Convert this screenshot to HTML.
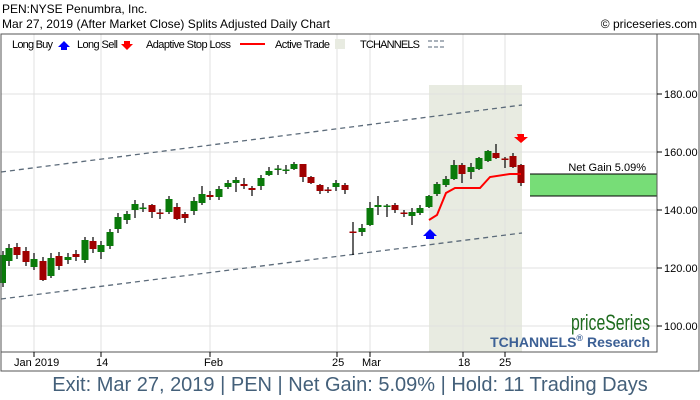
<!DOCTYPE html>
<html><head><meta charset="utf-8"><style>
html,body{margin:0;padding:0;background:#fff;width:700px;height:400px;overflow:hidden}
svg{display:block;font-family:"Liberation Sans",sans-serif}
</style></head><body>
<svg width="700" height="400" viewBox="0 0 700 400" xmlns="http://www.w3.org/2000/svg">
<rect x="0" y="0" width="700" height="400" fill="#fff"/>
<text x="2" y="13" font-size="12" fill="#000">PEN:NYSE Penumbra, Inc.</text>
<text x="2" y="28" font-size="12" fill="#000" textLength="328">Mar 27, 2019 (After Market Close)  Splits Adjusted Daily Chart</text>
<text x="697" y="28" font-size="12" fill="#000" text-anchor="end">© priceseries.com</text>
<rect x="429" y="85" width="93" height="267" fill="#e8ebe1"/>
<g stroke="#e0e0e0" stroke-width="1">
<line x1="1" y1="94" x2="657" y2="94"/><line x1="1" y1="152" x2="657" y2="152"/><line x1="1" y1="210" x2="657" y2="210"/><line x1="1" y1="268" x2="657" y2="268"/><line x1="1" y1="326" x2="657" y2="326"/>
<line x1="34" y1="34" x2="34" y2="352"/><line x1="101" y1="34" x2="101" y2="352"/><line x1="210" y1="34" x2="210" y2="352"/><line x1="337" y1="34" x2="337" y2="352"/><line x1="370" y1="34" x2="370" y2="352"/><line x1="463" y1="34" x2="463" y2="352"/><line x1="505" y1="34" x2="505" y2="352"/>
</g>
<g font-size="11" fill="#000">
<text x="12" y="48" textLength="41">Long Buy</text><path d="M58 47 l6 -6 l6 6 h-3 v3 h-6 v-3z" fill="#00f"/>
<text x="77" y="48" textLength="41">Long Sell</text><path d="M124 41 h6 v3 h3 l-6 6 l-6 -6 h3z" fill="#f00"/>
<text x="146" y="48" textLength="85">Adaptive Stop Loss</text><line x1="240" y1="44" x2="265" y2="44" stroke="#f00" stroke-width="2"/>
<text x="275" y="48" textLength="55">Active Trade</text><rect x="335" y="39" width="10" height="10" fill="#e8ebe1"/>
<text x="360" y="48" textLength="60">TCHANNELS</text><path d="M428 41h18M428 47h18" stroke="#567" stroke-dasharray="4,2"/>
</g>
<g stroke="#5c6b7a" stroke-width="1.3" stroke-dasharray="5,4" fill="none">
<line x1="1" y1="172" x2="522" y2="105"/><line x1="1" y1="299" x2="522" y2="233"/>
</g>
<g stroke="#000" stroke-width="1.2">
<line x1="3" y1="251" x2="3" y2="287"/><line x1="9" y1="244" x2="9" y2="266"/><line x1="17" y1="243" x2="17" y2="259"/><line x1="26" y1="247" x2="26" y2="266"/><line x1="34" y1="253" x2="34" y2="270"/><line x1="43" y1="257" x2="43" y2="281"/><line x1="51" y1="253" x2="51" y2="278"/><line x1="59" y1="252" x2="59" y2="270"/><line x1="68" y1="253" x2="68" y2="264"/><line x1="76" y1="250" x2="76" y2="261"/><line x1="85" y1="237" x2="85" y2="263"/><line x1="93" y1="237" x2="93" y2="253"/><line x1="101" y1="241" x2="101" y2="259"/><line x1="110" y1="229" x2="110" y2="249"/><line x1="118" y1="213" x2="118" y2="233"/><line x1="127" y1="211" x2="127" y2="224"/><line x1="135" y1="200" x2="135" y2="218"/><line x1="143" y1="203" x2="143" y2="212"/><line x1="152" y1="204" x2="152" y2="218"/><line x1="160" y1="209" x2="160" y2="219"/><line x1="169" y1="196" x2="169" y2="214"/><line x1="177" y1="203" x2="177" y2="220"/><line x1="185" y1="212" x2="185" y2="223"/><line x1="194" y1="197" x2="194" y2="215"/><line x1="202" y1="186" x2="202" y2="205"/><line x1="210" y1="191" x2="210" y2="200"/><line x1="219" y1="186" x2="219" y2="200"/><line x1="228" y1="180" x2="228" y2="189"/><line x1="236" y1="177" x2="236" y2="192"/><line x1="244" y1="178" x2="244" y2="189"/><line x1="252" y1="186" x2="252" y2="196"/><line x1="261" y1="175" x2="261" y2="190"/><line x1="269" y1="167" x2="269" y2="176"/><line x1="278" y1="165" x2="278" y2="175"/><line x1="286" y1="165" x2="286" y2="174"/><line x1="294" y1="162" x2="294" y2="170"/><line x1="303" y1="164" x2="303" y2="182"/><line x1="311" y1="176" x2="311" y2="184"/><line x1="320" y1="184" x2="320" y2="194"/><line x1="328" y1="187" x2="328" y2="193"/><line x1="336" y1="180" x2="336" y2="191"/><line x1="345" y1="183" x2="345" y2="194"/>
<line x1="353" y1="222" x2="353" y2="255"/><line x1="362" y1="224" x2="362" y2="236"/><line x1="370" y1="202" x2="370" y2="226"/><line x1="378" y1="196" x2="378" y2="215"/><line x1="387" y1="204" x2="387" y2="217"/><line x1="395" y1="203" x2="395" y2="213"/><line x1="404" y1="210" x2="404" y2="217"/><line x1="412" y1="208" x2="412" y2="225"/><line x1="420" y1="205" x2="420" y2="215"/><line x1="429" y1="195" x2="429" y2="208"/><line x1="437" y1="182" x2="437" y2="196"/><line x1="446" y1="176" x2="446" y2="187"/><line x1="454" y1="160" x2="454" y2="180"/><line x1="462" y1="163" x2="462" y2="183"/><line x1="471" y1="163" x2="471" y2="179"/><line x1="479" y1="157" x2="479" y2="170"/><line x1="488" y1="150" x2="488" y2="162"/><line x1="496" y1="144" x2="496" y2="159"/><line x1="505" y1="157" x2="505" y2="168"/><line x1="513" y1="153" x2="513" y2="168"/><line x1="521" y1="164" x2="521" y2="186"/>
</g>
<g fill="#0a7a0a">
<rect x="0" y="255" width="6" height="28"/><rect x="5.5" y="248" width="7" height="13"/><rect x="30.5" y="259" width="7" height="8"/><rect x="47.5" y="258" width="7" height="18"/><rect x="64.5" y="257" width="7" height="3"/><rect x="81.5" y="240" width="7" height="20"/><rect x="97.5" y="245" width="7" height="7"/><rect x="106.5" y="232" width="7" height="14"/><rect x="114.5" y="217" width="7" height="12"/><rect x="123.5" y="214" width="7" height="6"/><rect x="131.5" y="204" width="7" height="6"/><rect x="139.5" y="207.5" width="7" height="1.5"/><rect x="165.5" y="199" width="7" height="13"/><rect x="190.5" y="201" width="7" height="10"/><rect x="198.5" y="194" width="7" height="9"/><rect x="215.5" y="189" width="7" height="8"/><rect x="224.5" y="183" width="7" height="4"/><rect x="232.5" y="180" width="7" height="3"/><rect x="257.5" y="178" width="7" height="8"/><rect x="265.5" y="171" width="7" height="4"/><rect x="274.5" y="168.5" width="7" height="1.5"/><rect x="282.5" y="169.5" width="7" height="1.5"/><rect x="290.5" y="164" width="7" height="5"/><rect x="332.5" y="183" width="7" height="4"/>
<rect x="358.5" y="228" width="7" height="4"/><rect x="366.5" y="208" width="7" height="17"/><rect x="374.5" y="205" width="7" height="2"/><rect x="383.5" y="205.5" width="7" height="1.5"/><rect x="408.5" y="212" width="7" height="4"/><rect x="416.5" y="208" width="7" height="5"/><rect x="425.5" y="196" width="7" height="11"/><rect x="433.5" y="184" width="7" height="10"/><rect x="442.5" y="179" width="7" height="6"/><rect x="450.5" y="165" width="7" height="14"/><rect x="467.5" y="167" width="7" height="5"/><rect x="475.5" y="158" width="7" height="11"/><rect x="484.5" y="151" width="7" height="10"/>
</g>
<g fill="#a00000">
<rect x="13.5" y="247" width="7" height="8"/><rect x="22.5" y="251" width="7" height="11"/><rect x="39.5" y="261" width="7" height="19"/><rect x="55.5" y="256" width="7" height="10"/><rect x="72.5" y="254" width="7" height="3"/><rect x="89.5" y="241" width="7" height="8"/><rect x="148.5" y="205" width="7" height="7"/><rect x="156.5" y="212.5" width="7" height="1.5"/><rect x="173.5" y="207" width="7" height="12"/><rect x="181.5" y="214" width="7" height="4"/><rect x="206.5" y="195" width="7" height="2"/><rect x="240.5" y="184" width="7" height="2"/><rect x="248.5" y="188" width="7" height="2"/><rect x="299.5" y="164" width="7" height="13"/><rect x="307.5" y="177" width="7" height="6"/><rect x="316.5" y="185" width="7" height="6"/><rect x="324.5" y="189.5" width="7" height="1.5"/><rect x="341.5" y="185" width="7" height="5"/>
<rect x="349.5" y="231.5" width="7" height="1.5"/><rect x="391.5" y="205" width="7" height="5"/><rect x="400.5" y="212.5" width="7" height="1.5"/><rect x="458.5" y="165" width="7" height="9"/><rect x="492.5" y="153" width="7" height="5"/><rect x="501.5" y="158.5" width="7" height="1.5"/><rect x="509.5" y="156" width="7" height="11"/><rect x="517.5" y="165" width="7" height="18"/>
</g>
<path d="M429 220 L437 215 L446 193 L455 188 L480 188 L490 177 L510 174 L521 174" stroke="#f00" stroke-width="2" fill="none"/>
<path d="M423 236 l7 -7 l7 7 h-3 v3 h-8 v-3z" fill="#00f"/>
<path d="M517 134 h7 v3 h4 l-7 6 l-7 -6 h4z" fill="#f00"/>
<rect x="530" y="174" width="127" height="22" fill="#77dd77"/>
<line x1="530" y1="174" x2="657" y2="174" stroke="#000"/><line x1="530" y1="196" x2="657" y2="196" stroke="#000"/>
<text x="646" y="171" font-size="11" text-anchor="end">Net Gain 5.09%</text>
<text x="571" y="330" font-size="22" fill="#1e6b1e" textLength="79" lengthAdjust="spacingAndGlyphs">priceSeries</text>
<text x="650" y="347" font-size="14" font-weight="bold" fill="#3c6095" text-anchor="end">TCHANNELS<tspan font-size="9" dy="-6">®</tspan><tspan dy="6"> Research</tspan></text>
<rect x="1" y="34" width="656" height="318" fill="none" stroke="#555"/>
<rect x="1" y="34" width="698" height="337" fill="none" stroke="#555"/>
<g font-size="11" fill="#000">
<g stroke="#000"><line x1="657" y1="94" x2="662" y2="94"/><line x1="657" y1="152" x2="662" y2="152"/><line x1="657" y1="210" x2="662" y2="210"/><line x1="657" y1="268" x2="662" y2="268"/><line x1="657" y1="326" x2="662" y2="326"/>
<line x1="34" y1="352" x2="34" y2="357"/><line x1="101" y1="352" x2="101" y2="357"/><line x1="210" y1="352" x2="210" y2="357"/><line x1="337" y1="352" x2="337" y2="357"/><line x1="370" y1="352" x2="370" y2="357"/><line x1="463" y1="352" x2="463" y2="357"/><line x1="505" y1="352" x2="505" y2="357"/></g>
<text x="664" y="98">180.00</text><text x="664" y="156">160.00</text><text x="664" y="214">140.00</text><text x="664" y="272">120.00</text><text x="664" y="330">100.00</text>
<text x="14" y="366">Jan 2019</text><text x="96" y="366">14</text><text x="204" y="366">Feb</text><text x="332" y="366">25</text><text x="362" y="366">Mar</text><text x="458" y="366">18</text><text x="499" y="366">25</text>
</g>
<text x="350" y="391" font-size="20" fill="#44607a" text-anchor="middle">Exit: Mar 27, 2019 | PEN | Net Gain: 5.09% | Hold: 11 Trading Days</text>
</svg>
</body></html>
